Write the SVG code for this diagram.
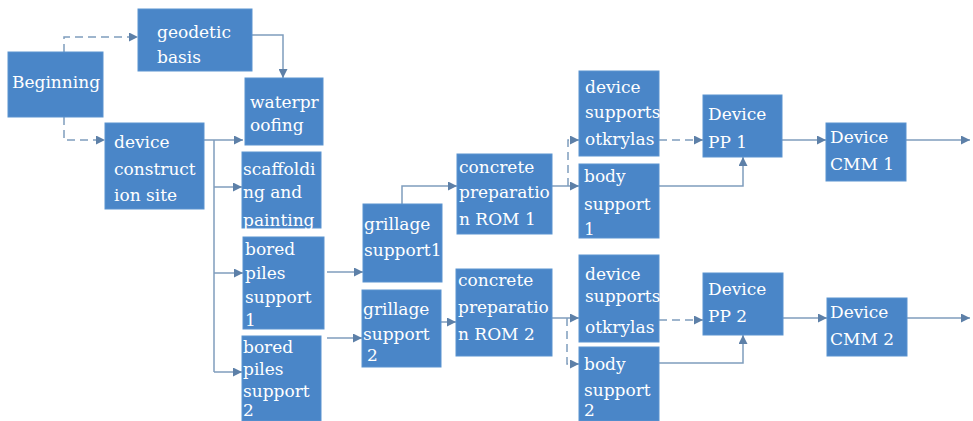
<svg xmlns="http://www.w3.org/2000/svg" width="973" height="421" viewBox="0 0 973 421">
<style>
.box{fill:#4a86c8;stroke:#5a93d0;stroke-width:1}
.t{font-family:"DejaVu Serif","Liberation Serif",serif;font-size:17px;fill:#ffffff}
.c{fill:none;stroke:#7f9dbd;stroke-width:1.5}
.d{stroke-dasharray:8,5}
</style>
<defs>
<marker id="ah" viewBox="0 0 10 10" refX="10" refY="5" markerWidth="9" markerHeight="9" markerUnits="userSpaceOnUse" orient="auto">
<path d="M0,0 L10,5 L0,10 z" fill="#5d80a8"/>
</marker>
</defs>
<rect width="973" height="421" fill="#ffffff"/>
<g id="connectors">
<path class="c d" d="M64,52 V37 H138" marker-end="url(#ah)"/>
<path class="c d" d="M64,117 V140 H105" marker-end="url(#ah)"/>
<path class="c" d="M252,35 H283 V78" marker-end="url(#ah)"/>
<path class="c" d="M204,140 H243" marker-end="url(#ah)"/>
<path class="c" d="M214,140 V372"/>
<path class="c" d="M214,187 H242" marker-end="url(#ah)"/>
<path class="c" d="M214,273 H243" marker-end="url(#ah)"/>
<path class="c" d="M214,372 H242" marker-end="url(#ah)"/>
<path class="c" d="M327,272 H363" marker-end="url(#ah)"/>
<path class="c" d="M327,338 H362" marker-end="url(#ah)"/>
<path class="c" d="M402,204 V186 H457" marker-end="url(#ah)"/>
<path class="c" d="M441,322 H456" marker-end="url(#ah)"/>
<path class="c" d="M552,186 H579" marker-end="url(#ah)"/>
<path class="c d" d="M568,186 V140 H579" marker-end="url(#ah)"/>
<path class="c" d="M552,318 H579" marker-end="url(#ah)"/>
<path class="c d" d="M567,318 V364 H579" marker-end="url(#ah)"/>
<path class="c d" d="M659,140 H703" marker-end="url(#ah)"/>
<path class="c" d="M659,186 H743 V157" marker-end="url(#ah)"/>
<path class="c d" d="M659,320 H703" marker-end="url(#ah)"/>
<path class="c" d="M659,363 H743 V335" marker-end="url(#ah)"/>
<path class="c" d="M782,140 H826" marker-end="url(#ah)"/>
<path class="c" d="M906,140 H970" marker-end="url(#ah)"/>
<path class="c" d="M783,318 H827" marker-end="url(#ah)"/>
<path class="c" d="M907,318 H970" marker-end="url(#ah)"/>
</g>
<g id="beginning"><rect class="box" x="8" y="52" width="95" height="65"/><text class="t" x="12" y="88">Beginning</text></g>
<g id="geodetic"><rect class="box" x="138" y="9" width="114" height="62"/><text class="t" x="157" y="38">geodetic</text><text class="t" x="157" y="63">basis</text></g>
<g id="waterproofing"><rect class="box" x="245" y="78" width="78" height="67"/><text class="t" x="250" y="108">waterpr</text><text class="t" x="250" y="131">oofing</text></g>
<g id="construction"><rect class="box" x="105" y="123" width="99" height="86"/><text class="t" x="114" y="148">device</text><text class="t" x="114" y="175">construct</text><text class="t" x="114" y="201">ion site</text></g>
<g id="scaffolding"><rect class="box" x="242" y="152" width="79" height="76"/><text class="t" x="243" y="175">scaffoldi</text><text class="t" x="243" y="198">ng and</text><text class="t" x="243" y="226">painting</text></g>
<g id="bored1"><rect class="box" x="243" y="237" width="81" height="92"/><text class="t" x="245" y="255">bored</text><text class="t" x="245" y="279">piles</text><text class="t" x="245" y="303">support</text><text class="t" x="245" y="326">1</text></g>
<g id="bored2"><rect class="box" x="242" y="336" width="79" height="85"/><text class="t" x="243" y="353">bored</text><text class="t" x="243" y="375">piles</text><text class="t" x="243" y="397">support</text><text class="t" x="243" y="416">2</text></g>
<g id="grillage1"><rect class="box" x="363" y="204" width="79" height="78"/><text class="t" x="364" y="230">grillage</text><text class="t" x="364" y="256">support1</text></g>
<g id="grillage2"><rect class="box" x="362" y="290" width="79" height="77"/><text class="t" x="363" y="315">grillage</text><text class="t" x="363" y="340">support</text><text class="t" x="367" y="361">2</text></g>
<g id="rom1"><rect class="box" x="457" y="154" width="95" height="80"/><text class="t" x="459" y="173">concrete</text><text class="t" x="459" y="198">preparatio</text><text class="t" x="459" y="225">n ROM 1</text></g>
<g id="rom2"><rect class="box" x="456" y="269" width="96" height="87"/><text class="t" x="458" y="286">concrete</text><text class="t" x="458" y="313">preparatio</text><text class="t" x="458" y="340">n ROM 2</text></g>
<g id="supports1"><rect class="box" x="579" y="71" width="80" height="85"/><text class="t" x="585" y="93">device</text><text class="t" x="585" y="118">supports</text><text class="t" x="585" y="145">otkrylas</text></g>
<g id="body1"><rect class="box" x="579" y="164" width="80" height="74"/><text class="t" x="584" y="182">body</text><text class="t" x="584" y="210">support</text><text class="t" x="584" y="235">1</text></g>
<g id="supports2"><rect class="box" x="579" y="255" width="80" height="87"/><text class="t" x="585" y="280">device</text><text class="t" x="585" y="302">supports</text><text class="t" x="585" y="333">otkrylas</text></g>
<g id="body2"><rect class="box" x="579" y="347" width="80" height="74"/><text class="t" x="584" y="370">body</text><text class="t" x="584" y="396">support</text><text class="t" x="584" y="416">2</text></g>
<g id="pp1"><rect class="box" x="703" y="95" width="79" height="62"/><text class="t" x="708" y="120">Device</text><text class="t" x="708" y="148">PP 1</text></g>
<g id="pp2"><rect class="box" x="703" y="273" width="80" height="62"/><text class="t" x="708" y="295">Device</text><text class="t" x="708" y="322">PP 2</text></g>
<g id="cmm1"><rect class="box" x="826" y="123" width="80" height="58"/><text class="t" x="830" y="143">Device</text><text class="t" x="830" y="170">CMM 1</text></g>
<g id="cmm2"><rect class="box" x="827" y="298" width="80" height="58"/><text class="t" x="830" y="318">Device</text><text class="t" x="830" y="345">CMM 2</text></g>
</svg>
